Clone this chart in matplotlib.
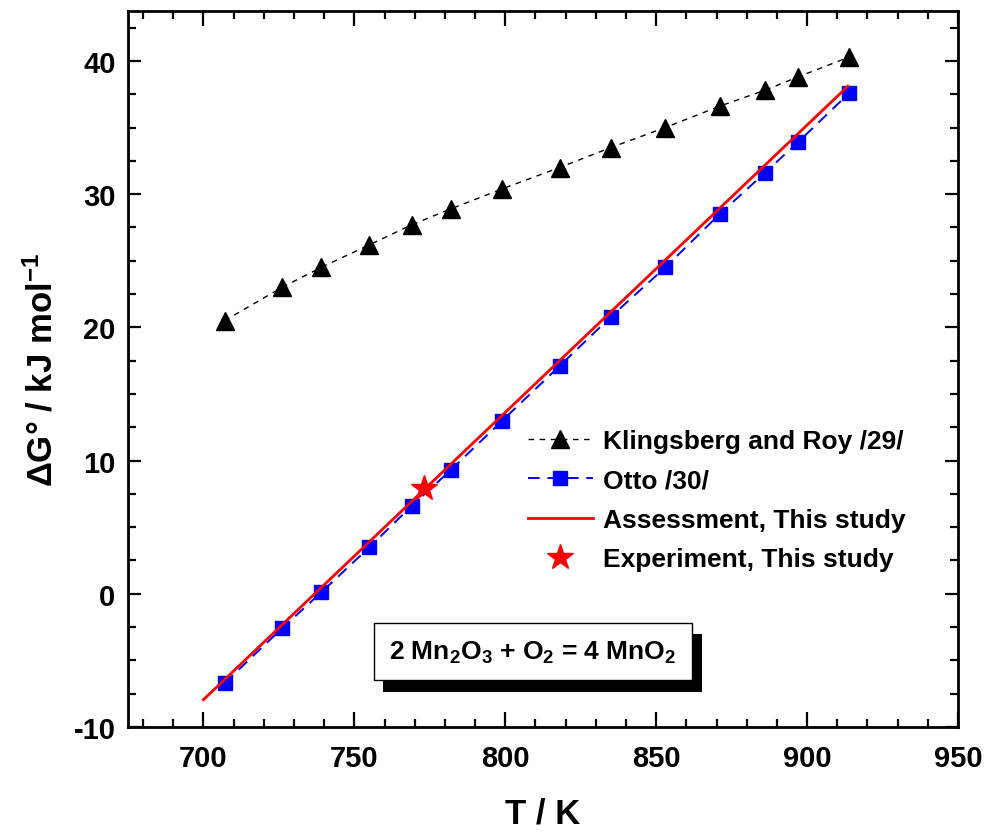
import matplotlib

matplotlib.use("Agg")
import matplotlib.pyplot as plt
import matplotlib.patheffects as pe
from matplotlib.ticker import MultipleLocator

plt.rcParams["font.family"] = ["Liberation Sans", "DejaVu Sans"]
plt.rcParams["font.weight"] = "bold"
plt.rcParams["mathtext.fontset"] = "custom"
plt.rcParams["mathtext.rm"] = "Liberation Sans:bold"
plt.rcParams["mathtext.default"] = "rm"
plt.rcParams["axes.unicode_minus"] = False

# Klingsberg and Roy /29/
t_klingsberg = [707, 726, 739, 755, 769, 782, 799, 818, 835, 853, 871, 886, 897, 914]
dg_klingsberg = [20.5, 23.0, 24.5, 26.2, 27.7, 28.9, 30.4, 32.0, 33.5, 35.0, 36.6, 37.8, 38.8, 40.3]

# Otto /30/
t_otto = [707, 726, 739, 755, 769, 782, 799, 818, 835, 853, 871, 886, 897, 914]
dg_otto = [-6.7, -2.6, 0.1, 3.5, 6.6, 9.3, 13.0, 17.1, 20.8, 24.5, 28.5, 31.6, 33.9, 37.6]

# Assessment, this study (straight line between end points)
t_assessment = [700, 913.5]
dg_assessment = [-7.95, 38.1]

# Experiment, this study
t_experiment = [773]
dg_experiment = [7.95]

fig = plt.figure(figsize=(9.9, 8.37), dpi=100)
ax = fig.add_axes([128 / 990, 1 - 728 / 837, 830 / 990, 716 / 837])

ax.plot(t_klingsberg, dg_klingsberg, color="black", linestyle=(0, (4, 4)), linewidth=1.0,
        marker="^", markersize=12.5, markerfacecolor="black", markeredgecolor="black",
        label="Klingsberg and Roy /29/")
ax.plot(t_otto, dg_otto, color="blue", linestyle=(0, (6, 4)), linewidth=1.4,
        marker="s", markersize=10, markerfacecolor="blue", markeredgecolor="blue",
        label="Otto /30/")
ax.plot(t_assessment, dg_assessment, color="red", linewidth=2.0, label="Assessment, This study")
ax.plot(t_experiment, dg_experiment, linestyle="none", marker="*", markersize=19,
        color="red", label="Experiment, This study")

ax.set_xlim(675, 950)
ax.set_ylim(-10, 43.75)
ax.xaxis.set_major_locator(MultipleLocator(50))
ax.xaxis.set_minor_locator(MultipleLocator(10))
ax.yaxis.set_major_locator(MultipleLocator(10))
ax.yaxis.set_minor_locator(MultipleLocator(2.5))

for spine in ax.spines.values():
    spine.set_linewidth(2.0)
ax.tick_params(which="both", direction="in", top=True, right=True, width=1.6)
ax.tick_params(axis="x", which="major", length=11, pad=12)
ax.tick_params(axis="y", which="major", length=9.5, pad=9)
ax.tick_params(axis="x", which="minor", length=5.5)
ax.tick_params(axis="y", which="minor", length=5.5)
ax.tick_params(labelsize=21)

ax.set_xlabel("T / K", fontsize=25, fontweight="bold", labelpad=18)
ax.set_ylabel("ΔG° / kJ mol$^{-1}$", fontsize=25, fontweight="bold", labelpad=10)

leg = ax.legend(loc="upper left", bbox_to_anchor=(0.482, 0.416), frameon=False,
                fontsize=19, handlelength=2.45, handletextpad=0.4, labelspacing=0.58,
                borderpad=0, borderaxespad=0, markerscale=1.0)

# reaction label with a drop shadow
txt = ax.text(0.488, 0.1054, "2 Mn$_2$O$_3$ + O$_2$ = 4 MnO$_2$", transform=ax.transAxes,
              ha="center", va="center", fontsize=19, fontweight="bold",
              bbox=dict(boxstyle="square,pad=0.6", facecolor="white", edgecolor="black", linewidth=1.0))
txt.get_bbox_patch().set_path_effects([
    pe.SimplePatchShadow(offset=(7, -8), shadow_rgbFace="black", alpha=1.0),
    pe.Normal(),
])

fig.savefig("out.png", dpi=100)
